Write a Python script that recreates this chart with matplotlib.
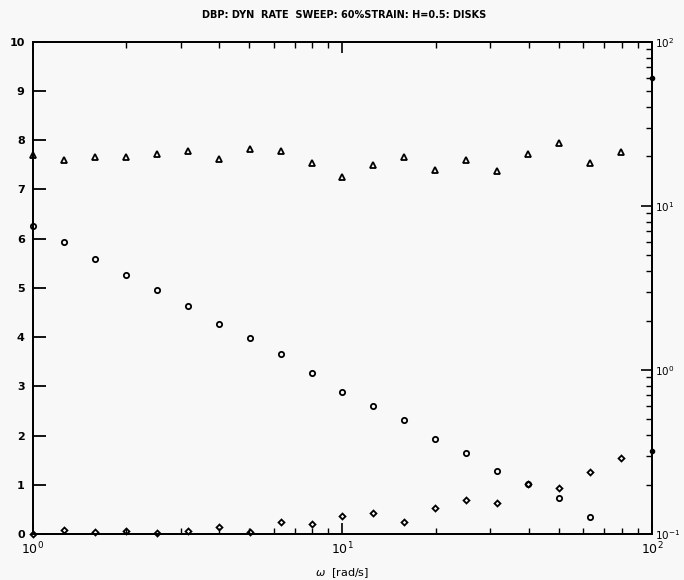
import numpy as np
import matplotlib
matplotlib.use('Agg')
import matplotlib.pyplot as plt
from matplotlib.ticker import LogLocator, NullFormatter

# frequency points: 10 per decade, 1 .. 79.4 rad/s
omega = 10 ** (np.arange(20) / 10.0)

# triangles (left scale)
tri_vals = [7.70, 7.59, 7.65, 7.65, 7.72, 7.77, 7.62, 7.82, 7.77, 7.53,
            7.26, 7.49, 7.66, 7.39, 7.59, 7.37, 7.72, 7.95, 7.54, 7.75]

# circles (left scale), last point off scale
circ_omega = omega[:19]
circ_vals = [6.26, 5.93, 5.59, 5.26, 4.95, 4.63, 4.27, 3.98, 3.65, 3.27,
             2.89, 2.60, 2.31, 1.92, 1.65, 1.28, 1.02, 0.74, 0.34]

# diamonds (left scale)
dia_vals = [0.00, 0.08, 0.05, 0.07, 0.02, 0.07, 0.15, 0.04, 0.24, 0.20,
            0.37, 0.43, 0.24, 0.53, 0.69, 0.63, 1.02, 0.93, 1.25, 1.55]

# stray points sitting on the right axis at omega=100
edge_omega = [100.0, 100.0]
edge_vals = [9.27, 1.69]

title = 'DBP: DYN  RATE  SWEEP: 60%STRAIN: H=0.5: DISKS'
bg = '#f8f8f8'

fig = plt.figure(figsize=(6.84, 5.8), dpi=100, facecolor=bg)
ax = fig.add_axes([0.0482, 0.0793, 0.9050, 0.8488], facecolor=bg)

mk = dict(linestyle='none', color='black', markerfacecolor='none', clip_on=False)
ax.plot(omega, tri_vals, marker='^', markersize=3.8, markeredgewidth=1.3, **mk)
ax.plot(circ_omega, circ_vals, marker='o', markersize=3.8, markeredgewidth=1.3, **mk)
ax.plot(omega, dia_vals, marker='D', markersize=3.0, markeredgewidth=1.3, **mk)
ax.plot(edge_omega, edge_vals, linestyle='none', marker='o', markersize=3,
        color='black', clip_on=False)

ax.set_xscale('log')
ax.set_xlim(1, 100)
ax.set_ylim(0, 10)
ax.set_yticks(range(11))

for s in ax.spines.values():
    s.set_linewidth(1.3)

ax.tick_params(axis='y', which='major', direction='in', length=9, width=1.3,
               labelsize=8, pad=6)
ax.tick_params(axis='x', which='major', direction='in', length=8, width=1.2,
               top=True, labelsize=9, pad=5)
ax.tick_params(axis='x', which='minor', direction='in', length=4, width=1.0,
               top=True)
ax.xaxis.set_minor_locator(LogLocator(base=10, subs=np.arange(2, 10)))
ax.xaxis.set_minor_formatter(NullFormatter())
for lab in ax.get_yticklabels():
    lab.set_fontweight('bold')

ax2 = ax.twinx()
ax2.set_yscale('log')
ax2.set_ylim(0.1, 100)
ax2.tick_params(axis='y', which='major', direction='in', length=8, width=1.2,
                labelsize=7.5, pad=2)
ax2.tick_params(axis='y', which='minor', direction='in', length=4, width=1.0)
ax2.yaxis.set_minor_locator(LogLocator(base=10, subs=np.arange(2, 10)))
ax2.yaxis.set_minor_formatter(NullFormatter())
for s in ax2.spines.values():
    s.set_linewidth(1.3)

ax.set_xlabel(r'$\omega$  [rad/s]', fontsize=8, labelpad=6)
fig.text(0.503, 0.975, title, ha='center', va='center', fontsize=7,
         fontweight='bold', family='DejaVu Sans')

fig.savefig('out.png', dpi=100, facecolor=bg)
